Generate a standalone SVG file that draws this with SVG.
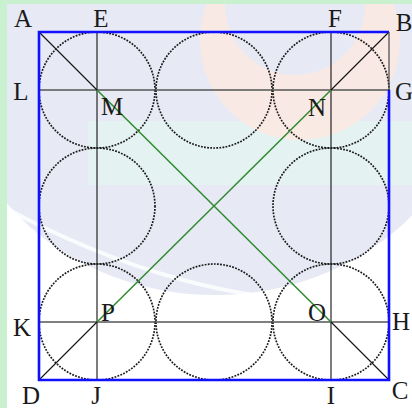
<svg xmlns="http://www.w3.org/2000/svg" width="412" height="408" viewBox="0 0 412 408">
<style>
.lbl{font-family:"Liberation Serif","Times New Roman",serif;font-size:25px;fill:#1a1a1a;text-anchor:middle}
.circ{fill:none;stroke:#1a1a1a;stroke-width:1.7;stroke-dasharray:1.8 1.3}
.thin{stroke:#111;stroke-width:1.1;fill:none}
.hline{stroke:#555;stroke-width:1.4;fill:none}
.green{stroke:#2e8b2e;stroke-width:1.5;fill:none}
.blue{stroke:#1010ff;stroke-width:2.6;fill:none}
</style>
<g id="background">
<rect x="0" y="0" width="412" height="408" fill="#ffffff"/>
<ellipse cx="215" cy="55" rx="265" ry="240" fill="#e7eaf4"/>
<path d="M0 205 Q210 320 412 300" stroke="#ffffff" stroke-width="4" fill="none" opacity="0.8"/>
<rect x="88" y="121" width="324" height="64" fill="#e3f4f0" opacity="0.8"/>
<circle cx="300" cy="40" r="100" fill="#fbe9e2" opacity="0.9"/>
<circle cx="295" cy="5" r="70" fill="#e7eaf4"/>
<rect x="0" y="0" width="7" height="408" fill="#c9f1cf"/>
<rect x="0" y="0" width="412" height="4" fill="#c9f1cf"/>
</g>
<g id="circles">
<circle class="circ" cx="97" cy="90" r="58"/>
<circle class="circ" cx="214" cy="90" r="58"/>
<circle class="circ" cx="331" cy="90" r="58"/>
<circle class="circ" cx="97" cy="206" r="58"/>
<circle class="circ" cx="331" cy="206" r="58"/>
<circle class="circ" cx="97" cy="322" r="58"/>
<circle class="circ" cx="214" cy="322" r="58"/>
<circle class="circ" cx="331" cy="322" r="58"/>
</g>
<g id="connectors">
<line class="thin" x1="97" y1="32" x2="97" y2="380"/>
<line class="thin" x1="331" y1="32" x2="331" y2="380"/>
<line class="hline" x1="39" y1="90" x2="389" y2="90"/>
<line class="hline" x1="39" y1="322" x2="389" y2="322"/>
<line class="thin" x1="39" y1="32" x2="97" y2="90"/>
<line class="green" x1="97" y1="90" x2="331" y2="322"/>
<line class="thin" x1="331" y1="322" x2="389" y2="380"/>
<line class="thin" x1="39" y1="380" x2="97" y2="322"/>
<line class="green" x1="97" y1="322" x2="331" y2="90"/>
<line class="thin" x1="331" y1="90" x2="389" y2="32"/>
</g>
<g id="square">
<polyline class="blue" points="389,90 389,380 39,380 39,32 389,32"/>
<line x1="389" y1="32" x2="389" y2="90" stroke="#444" stroke-width="1.2"/>
</g>
<g id="labels">
<text class="lbl" x="23" y="27">A</text>
<text class="lbl" x="101" y="27">E</text>
<text class="lbl" x="335" y="27">F</text>
<text class="lbl" x="404" y="31">B</text>
<text class="lbl" x="21" y="100">L</text>
<text class="lbl" x="112" y="115">M</text>
<text class="lbl" x="317" y="116">N</text>
<text class="lbl" x="404" y="100">G</text>
<text class="lbl" x="22" y="336">K</text>
<text class="lbl" x="108" y="321">P</text>
<text class="lbl" x="317" y="321">O</text>
<text class="lbl" x="401" y="330">H</text>
<text class="lbl" x="31" y="404">D</text>
<text class="lbl" x="96" y="404">J</text>
<text class="lbl" x="331" y="404">I</text>
<text class="lbl" x="400" y="399">C</text>
</g>
</svg>
